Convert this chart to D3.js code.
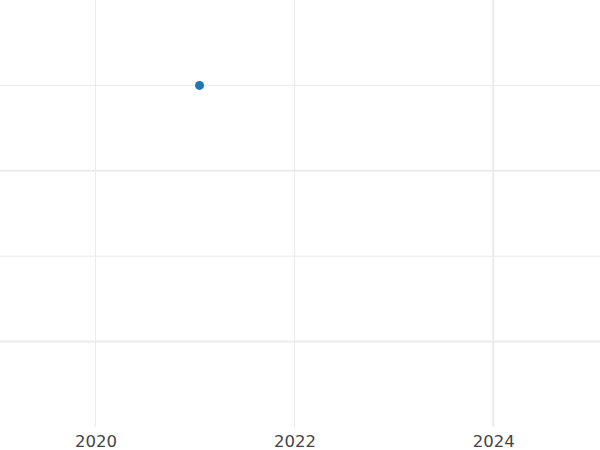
<!DOCTYPE html>
<meta charset="utf-8">
<style>
body { margin: 0; background: #fff; }
.grid line { stroke: #ebebeb; stroke-width: 1.2; }
.axis text { font-family: "DejaVu Sans"; font-size: 16.5px; fill: #444; }
.axis path, .axis line { display: none; }
</style>
<svg width="600" height="450"></svg>
<script src="https://d3js.org/d3.v7.min.js"></script>
<script>

// data
var dates = ["2021-01-17"];
var values = [1.5];
var xTicks = ["2020-01-01", "2022-01-01", "2024-01-01"];
var yGrid = [0, 0.5, 1, 1.5];

var svg = d3.select("svg"),
    width = +svg.attr("width"),
    height = +svg.attr("height"),
    plotBottom = 427;

var parse = d3.utcParse("%Y-%m-%d");

var x = d3.scaleUtc()
    .domain([parse("2019-01-15"), parse("2025-01-27")])
    .range([0, width]);

var y = d3.scaleLinear()
    .domain([-0.5, 2])
    .range([plotBottom, 0]);

var grid = svg.append("g").attr("class", "grid");

grid.selectAll(".h")
    .data(yGrid)
    .enter().append("line")
      .attr("class", "h")
      .attr("x1", 0)
      .attr("x2", width)
      .attr("y1", function(d) { return y(d); })
      .attr("y2", function(d) { return y(d); })
      .style("stroke-width", function(d) { return d % 1 === 0 ? 2 : 1; });

grid.selectAll(".v")
    .data(xTicks.map(parse))
    .enter().append("line")
      .attr("class", "v")
      .attr("x1", function(d) { return x(d); })
      .attr("x2", function(d) { return x(d); })
      .attr("y1", 0)
      .attr("y2", plotBottom)
      .style("stroke-width", function(d, i) { return i === 2 ? 2 : 1; });

svg.append("g")
    .attr("class", "axis")
    .attr("transform", "translate(0," + plotBottom + ")")
    .call(d3.axisBottom(x)
      .tickValues(xTicks.map(parse))
      .tickFormat(d3.utcFormat("%Y"))
      .tickSize(0)
      .tickPadding(8));

svg.selectAll(".dot")
    .data(dates.map(function(d, i) { return {date: parse(d), value: values[i]}; }))
    .enter().append("circle")
      .attr("class", "dot")
      .attr("cx", function(d) { return x(d.date); })
      .attr("cy", function(d) { return y(d.value); })
      .attr("r", 4.5)
      .attr("fill", "#1f77b4");

</script>
